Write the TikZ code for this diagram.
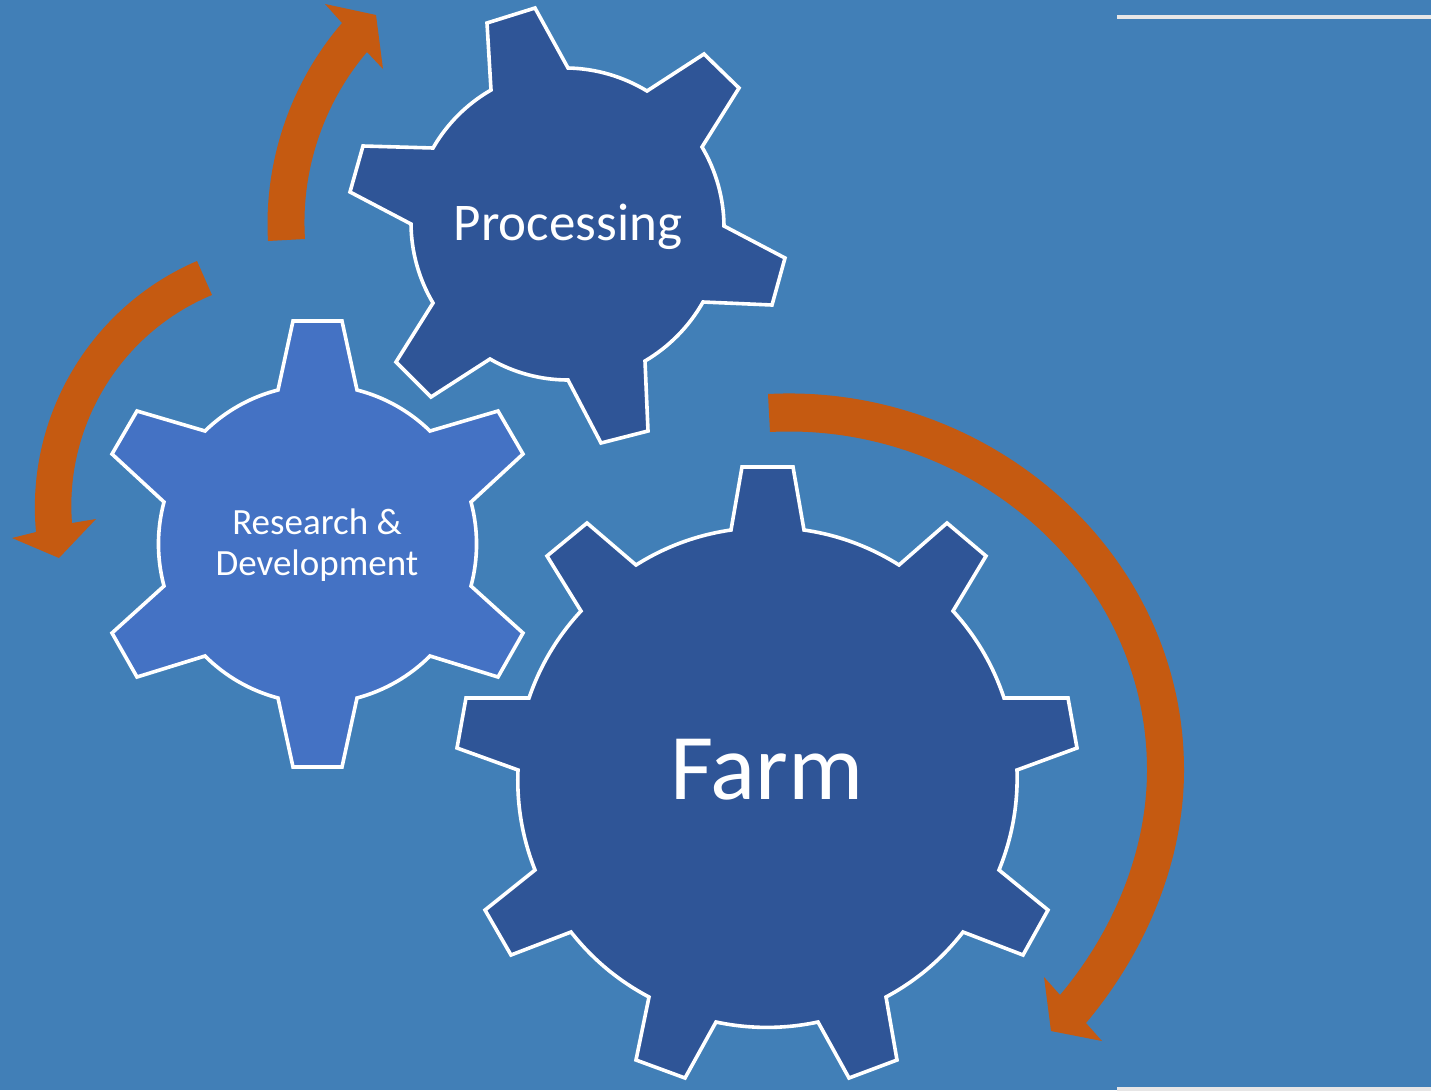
\documentclass[tikz,border=0pt]{standalone}
\usepackage{fontspec}
\usepackage{xcolor}
\setmainfont{Carlito}
\definecolor{backblue}{RGB}{65,127,183}
\definecolor{geardark}{RGB}{47,85,151}
\definecolor{gearlight}{RGB}{68,114,196}
\definecolor{turnorange}{RGB}{197,90,17}
\definecolor{ruleline}{RGB}{231,230,230}
\tikzset{
  gearshape/.style={draw=white, line width=3.6pt, line join=miter, fill=#1},
  turnarrow/.style={fill=turnorange},
  ruleseg/.style={draw=ruleline, line width=4pt},
  rootarc/.style={bend left=#1, looseness=.87},
  gearlabel/.style={text=white, align=center, inner sep=0pt}
}
\begin{document}
\begin{tikzpicture}[x=1pt,y=-1pt]
            \useasboundingbox (0,0) rectangle (1431,1090);
            \fill [backblue] (0,0) rectangle (1431,1090);
            \draw [ruleseg] (1117,17)--(1431,17);
            \draw [ruleseg] (1117,1089)--(1431,1089);
            \draw [gearshape=geardark] (491,90)--(487,23)--(535,8)--(568,68) to[rootarc=15] (647,91)
                --(704,54)--(739,88)--(702,147) to[rootarc=15] (724,226)
                --(785,258)--(772,305)--(703,302) to[rootarc=15] (645,361)
                --(648,431)--(601,443)--(568,380) to[rootarc=15] (490,359)
                --(431,397)--(396,362)--(433,303) to[rootarc=15] (411,224)
                --(350,192)--(363,146)--(433,148) to[rootarc=15] (491,90)--cycle;
            \draw [gearshape=gearlight] (278,390)--(293,321)--(342,321)--(357,390) to[rootarc=15] (430,431)
                --(498,411)--(523,454)--(471,502) to[rootarc=15] (471,586)
                --(523,633)--(498,677)--(430,656) to[rootarc=15] (357,698)
                --(342,767)--(293,767)--(278,698) to[rootarc=15] (205,656)
                --(137,677)--(112,633)--(164,586) to[rootarc=15] (164,502)
                --(112,454)--(137,411)--(205,431) to[rootarc=15] (278,390)--cycle;
            \draw [gearshape=geardark] (731,530)--(742,467)--(793,467)--(804,530) to[rootarc=12] (899,565)
                --(947,523)--(986,556)--(953,611) to[rootarc=12] (1004,698)
                --(1068,698)--(1077,748)--(1017,770) to[rootarc=12] (999,870)
                --(1048,910)--(1023,955)--(963,932) to[rootarc=12] (886,997)
                --(897,1060)--(849,1078)--(818,1022) to[rootarc=12] (716,1022)
                --(685,1078)--(636,1060)--(649,997) to[rootarc=12] (571,932)
                --(511,955)--(485,910)--(535,870) to[rootarc=12] (518,770)
                --(457,748)--(466,698)--(529,698) to[rootarc=12] (581,611)
                --(547,556)--(587,523)--(636,565) to[rootarc=12] (731,530)--cycle;
            \fill [turnarrow] (268,241) to[bend left=22, looseness=.88] (342,23)--(325,4)--(376,15)--(383,69)--(367,52)
                to[bend right=22, looseness=.88] (305,239)--cycle;
            \fill [turnarrow] (197,261) to[bend right=36, looseness=.94] (36,532)--(12,538)--(59,558)--(96,519)--(72,523)
                to[bend left=36, looseness=.94] (212,295)--cycle;
            \fill [turnarrow] (768,394) to[out=3,in=90] (1184,770) to[out=-90,in=50,looseness=.87] (1086,1023)
                --(1102,1041)--(1051,1031)--(1044,977)--(1060,995)
                to[out=50,in=-90,looseness=.87] (1147,770) to[out=90,in=3] (770,432)--cycle;
            \node [gearlabel, font=\fontsize{53}{57}\selectfont] (processing) at (568,227) {Processing};
            \node [gearlabel, font=\fontsize{37}{41}\selectfont] (research) at (317,545) {Research \&\\Development};
            \node [gearlabel, font=\fontsize{94}{100}\selectfont] (farm) at (767,770) {Farm};
        \end{tikzpicture}
\end{document}
